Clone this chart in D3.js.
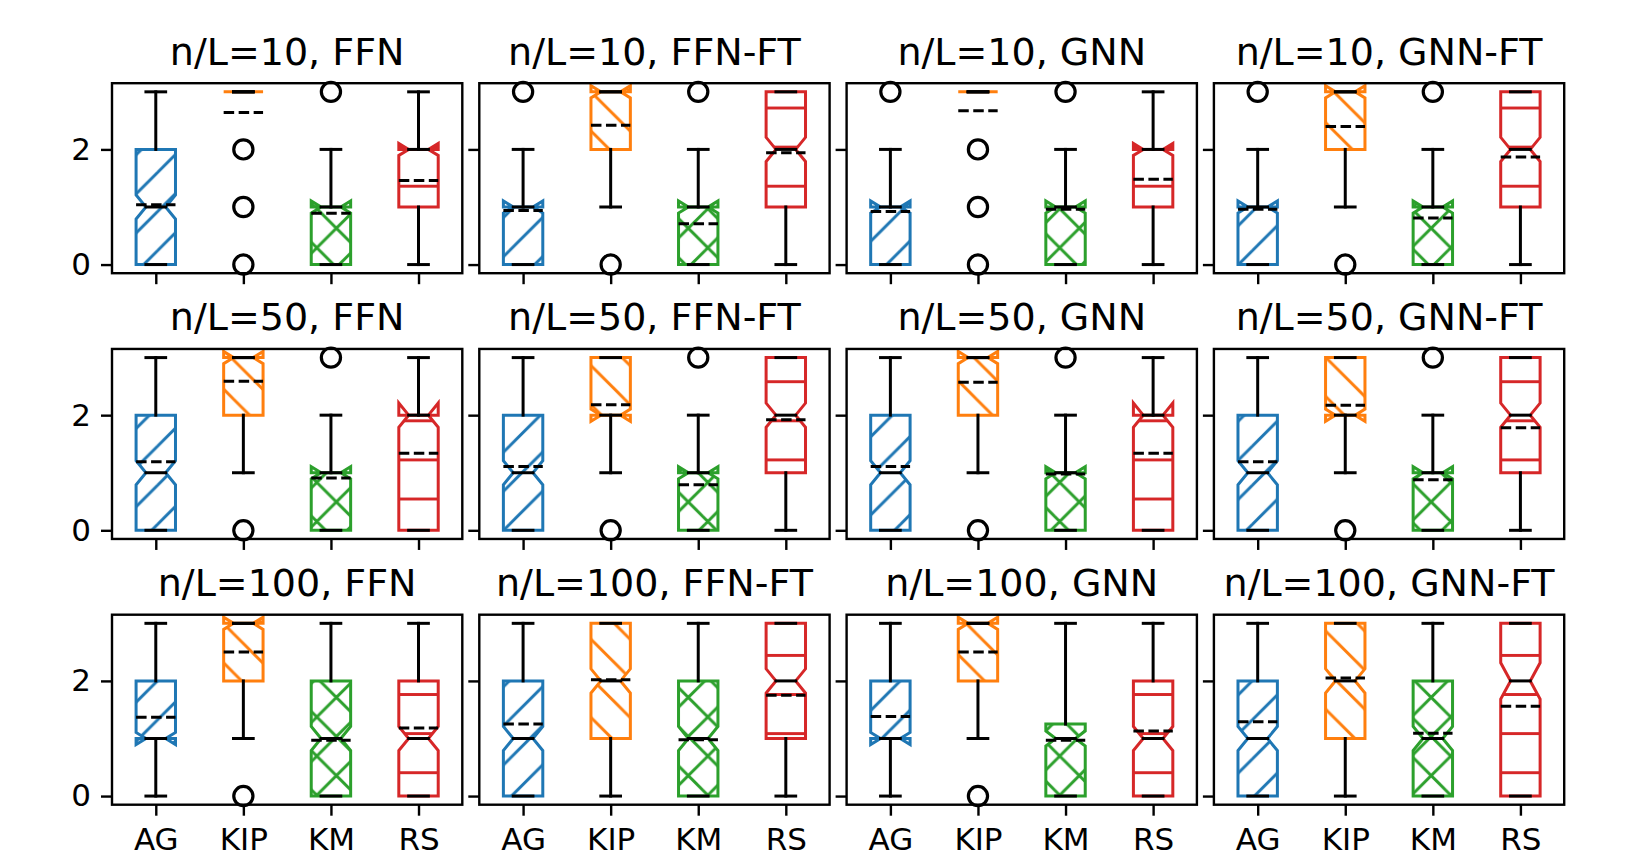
<!DOCTYPE html>
<html><head><meta charset="utf-8">
<script src="https://cdn.jsdelivr.net/npm/d3@7"></script>
<style>body{margin:0;background:#fff}</style>
</head><body><svg id="c" width="1626" height="856" xmlns="http://www.w3.org/2000/svg"></svg>
<script>
// ---------- data ----------
const rowLabels = ["n/L=10", "n/L=50", "n/L=100"];
const modelLabels = ["FFN", "FFN-FT", "GNN", "GNN-FT"];
const methods = ["AG", "KIP", "KM", "RS"];
const positions = [1, 2, 3, 4];
const yTicks = [0, 2];
const sampleSize = 224; // used for notch (1.57*IQR/sqrt(n))

// one row per panel (row-major), columns = [AG, KIP, KM, RS]
const q1 = [
  [0, 3, 0, 1], [0, 2, 0, 1], [0, 3, 0, 1], [0, 2, 0, 1],
  [0, 2, 0, 0], [0, 2, 0, 1], [0, 2, 0, 0], [0, 2, 0, 1],
  [1, 2, 0, 0], [0, 1, 0, 1], [1, 2, 0, 0], [0, 1, 0, 0]
];
const median = [
  [1, 3, 1, 2], [1, 3, 1, 2], [1, 3, 1, 2], [1, 3, 1, 2],
  [1, 3, 1, 2], [1, 2, 1, 2], [1, 3, 1, 2], [1, 2, 1, 2],
  [1, 3, 1, 1], [1, 2, 1, 2], [1, 3, 1, 1], [1, 2, 1, 2]
];
const q3 = [
  [2, 3, 1, 2], [1, 3, 1, 3], [1, 3, 1, 2], [1, 3, 1, 3],
  [2, 3, 1, 2], [2, 3, 1, 3], [2, 3, 1, 2], [2, 3, 1, 3],
  [2, 3, 2, 2], [2, 3, 2, 3], [2, 3, 1.25, 2], [2, 3, 2, 3]
];
const whiskerLow = [
  [0, 3, 0, 0], [0, 1, 0, 0], [0, 3, 0, 0], [0, 1, 0, 0],
  [0, 1, 0, 0], [0, 1, 0, 0], [0, 1, 0, 0], [0, 1, 0, 0],
  [0, 1, 0, 0], [0, 0, 0, 0], [0, 1, 0, 0], [0, 0, 0, 0]
];
const whiskerHigh = [
  [3, 3, 2, 3], [2, 3, 2, 3], [2, 3, 2, 3], [2, 3, 2, 3],
  [3, 3, 2, 3], [3, 3, 2, 3], [3, 3, 2, 3], [3, 3, 2, 3],
  [3, 3, 3, 3], [3, 3, 3, 3], [3, 3, 3, 3], [3, 3, 3, 3]
];
const meanValue = [
  [1.04, 2.64, 0.89, 1.46], [0.94, 2.42, 0.71, 1.94], [0.92, 2.67, 0.96, 1.48], [0.96, 2.40, 0.81, 1.87],
  [1.19, 2.59, 0.91, 1.34], [1.11, 2.18, 0.79, 1.92], [1.11, 2.57, 0.98, 1.34], [1.19, 2.17, 0.88, 1.78],
  [1.37, 2.50, 0.97, 1.18], [1.25, 2.02, 0.98, 1.75], [1.38, 2.50, 0.97, 1.13], [1.29, 2.05, 1.09, 1.56]
];
const fliers = [
  [[], [2, 1, 0], [3], []], [[3], [0], [3], []], [[3], [2, 1, 0], [3], []], [[3], [0], [3], []],
  [[], [0], [3], []], [[], [0], [3], []], [[], [0], [3], []], [[], [0], [3], []],
  [[], [0], [], []], [[], [], [], []], [[], [0], [], []], [[], [], [], []]
];

// ---------- styles / layout ----------
const colors = ["#1f77b4", "#ff7f0e", "#2ca02c", "#d62728"];
const hatchKinds = ["ne", "se", "x", "h"];
const LW = 3.0, AXLW = 2.4;
const W = 350.3, H = 190;
const left0 = 112, dxPanel = 367.3;
const top0 = 83.2, dyPanel = 265.75;
const boxWidth = 0.45;
const tickLen = 11;
const tickFont = 31, titleFont = 38;
const font = "DejaVu Sans, Liberation Sans, sans-serif";
const P = 39.1, phaseNE = 17.2, phaseSE = 30, phaseH = 29.8;

const svg = d3.select("#c");
svg.append("rect").attr("width", 1626).attr("height", 856).attr("fill", "#fff");

// hatch patterns (anchored to page coordinates)
const defs = svg.append("defs");
colors.forEach((col, i) => {
  const kind = hatchKinds[i];
  const pat = defs.append("pattern").attr("id", "hatch" + i)
    .attr("patternUnits", "userSpaceOnUse").attr("x", 0).attr("y", 0)
    .attr("width", P).attr("height", P);
  const g = pat.append("g").attr("stroke", col).attr("stroke-width", LW).attr("fill", "none");
  if (kind === "ne" || kind === "x") {
    for (let k = -2; k <= 2; k++) {
      const c = phaseNE + k * P;
      g.append("line").attr("x1", -P).attr("y1", c + P).attr("x2", 2 * P).attr("y2", c - 2 * P);
    }
  }
  if (kind === "se" || kind === "x") {
    for (let k = -2; k <= 2; k++) {
      const c = phaseSE + k * P;
      g.append("line").attr("x1", -P).attr("y1", -P - c).attr("x2", 2 * P).attr("y2", 2 * P - c);
    }
  }
  if (kind === "h") {
    g.append("line").attr("x1", -2).attr("y1", phaseH).attr("x2", P + 2).attr("y2", phaseH);
  }
});

const lineGen = d3.line();

rowLabels.forEach((rl, r) => {
  modelLabels.forEach((ml, c) => {
    const p = r * 4 + c;
    const left = left0 + c * dxPanel, top = top0 + r * dyPanel;
    const x = d3.scaleLinear().domain([0.5, 4.5]).range([left, left + W]);
    const y = d3.scaleLinear().domain([-0.15, 3.15]).range([top + H, top]);

    // axes: y
    const ya = svg.append("g").attr("transform", `translate(${left},0)`)
      .call(d3.axisLeft(y).tickValues(yTicks).tickSize(tickLen).tickPadding(10)
        .tickFormat(c === 0 ? d3.format("d") : () => ""));
    // x
    const xa = svg.append("g").attr("transform", `translate(0,${top + H})`)
      .call(d3.axisBottom(x).tickValues(positions).tickSize(tickLen).tickPadding(12)
        .tickFormat(r === 2 ? (d => methods[d - 1]) : () => ""));
    [ya, xa].forEach(a => {
      a.select(".domain").remove();
      a.selectAll(".tick line").attr("stroke", "#000").attr("stroke-width", AXLW);
      a.selectAll(".tick text").attr("fill", "#000").attr("font-family", font).attr("font-size", tickFont);
    });

    // boxes
    methods.forEach((m, i) => {
      const pos = positions[i];
      const a = q1[p][i], md = median[p][i], b = q3[p][i];
      const iqr = b - a;
      const half = 1.57 * iqr / Math.sqrt(sampleSize);
      const ciLo = md - half, ciHi = md + half;
      const L = pos - boxWidth / 2, R = pos + boxWidth / 2;
      const nL = pos - boxWidth / 4, nR = pos + boxWidth / 4;
      const bx = [L, R, R, nR, R, R, L, L, nL, L, L];
      const by = [a, a, ciLo, md, ciHi, b, b, ciHi, md, ciLo, a];
      const pts = bx.map((v, k) => [x(v), y(by[k])]);
      svg.append("path").attr("d", lineGen(pts) + "Z")
        .attr("fill", `url(#hatch${i})`).attr("stroke", colors[i])
        .attr("stroke-width", LW).attr("stroke-linejoin", "miter");

      const blk = (x1, y1, x2, y2, dash) => {
        const l = svg.append("line").attr("x1", x(x1)).attr("y1", y(y1)).attr("x2", x(x2)).attr("y2", y(y2))
          .attr("stroke", "#000").attr("stroke-width", LW);
        if (dash) l.attr("stroke-dasharray", "10.5,4.5").attr("stroke-linecap", "butt");
        else l.attr("stroke-linecap", "square");
      };
      // whiskers
      if (whiskerLow[p][i] !== a) blk(pos, a, pos, whiskerLow[p][i]);
      if (whiskerHigh[p][i] !== b) blk(pos, b, pos, whiskerHigh[p][i]);
      // caps
      blk(nL, whiskerLow[p][i], nR, whiskerLow[p][i]);
      blk(nL, whiskerHigh[p][i], nR, whiskerHigh[p][i]);
      // median
      blk(nL, md, nR, md);
      // mean
      blk(L, meanValue[p][i], R, meanValue[p][i], true);
      // fliers
      fliers[p][i].forEach(v => {
        svg.append("circle").attr("cx", x(pos)).attr("cy", y(v)).attr("r", 9.6)
          .attr("fill", "none").attr("stroke", "#000").attr("stroke-width", 3.2);
      });
    });

    // frame
    svg.append("rect").attr("x", left).attr("y", top).attr("width", W).attr("height", H)
      .attr("fill", "none").attr("stroke", "#000").attr("stroke-width", AXLW);

    // title
    svg.append("text").attr("x", left + W / 2).attr("y", top - 18.5)
      .attr("text-anchor", "middle").attr("font-family", font).attr("font-size", titleFont)
      .attr("fill", "#000").text(`${rl}, ${ml}`);
  });
});
</script>
</body></html>
